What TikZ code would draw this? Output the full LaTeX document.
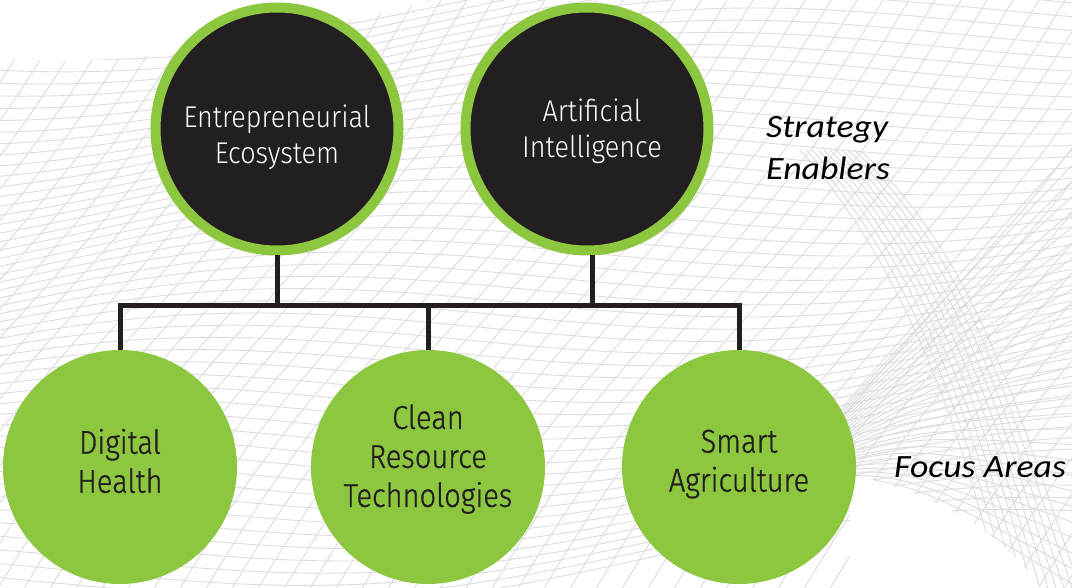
\documentclass[tikz,border=0pt]{standalone}
\usepackage{fontspec}
\setmainfont{Carlito}
\newfontfamily\circfont{Fira Sans Light}[FakeStretch=0.9]
\newfontfamily\areafont{Fira Sans Light}[FakeStretch=0.88, FakeBold=0.8]
\newfontfamily\tagfont{Carlito}[FakeStretch=1.1]
\definecolor{leaf}{HTML}{8DC63F}
\definecolor{ink}{HTML}{231F20}
\definecolor{mesh}{HTML}{DCDCDC}
\begin{document}
\begin{tikzpicture}[x=1pt,y=-1pt,
  enabler/.style={circle, draw=leaf, line width=10pt, fill=ink,
                  minimum size=243pt, inner sep=0pt},
  focus/.style={circle, fill=leaf, minimum size=234pt, inner sep=0pt},
  enablertext/.style={text=white, align=center, inner sep=0pt,
                      font=\circfont\fontsize{30}{36}\selectfont},
  focustext/.style={text=ink, align=center, inner sep=0pt,
                    font=\areafont\fontsize{33}{39}\selectfont},
  tag/.style={text=black, align=left, anchor=base west, inner sep=0pt,
              font=\tagfont\itshape\fontsize{32.5}{41.5}\selectfont},
  link/.style={draw=ink, line width=5pt, line join=miter},
  meshline/.style={draw=mesh, line width=0.9pt}
]
\useasboundingbox (0,0) rectangle (1072,588);
\fill[white] (0,0) rectangle (1072,588);

% wavy wire-mesh backdrop
\begin{scope}
  \clip (0,0) rectangle (1072,588);
  % long undulating strands
  \foreach \k in {0,...,58} {
    \draw[meshline] plot[domain=-10:1082, samples=45, smooth]
      (\x, {\k*11 - 40 + 30*sin(0.3*\x + 6*\k) - 0.06*\x});
  }
  % slanted cross strands
  \foreach \k in {-22,...,44} {
    \draw[meshline] plot[domain=0:588, samples=25, smooth]
      ({\k*26 + (588-\x)*0.75 + 14*sin(0.6*\x)}, \x);
  }
  % fan opening to the right edge
  \foreach \k in {0,...,28} {
    \draw[meshline] (780,480) .. controls (900,{480-(28-\k)*5}) .. (1072,{150+\k*15.5});
  }
  % sweeping arcs on the right
  \foreach \k in {0,...,10} {
    \draw[meshline] ({800+\k*6},150) .. controls ({900+\k*8},260) and ({960+\k*6},420) .. ({1000+\k*8},588);
  }
  % clear pockets
  \fill[white] (0,0) -- (430,0) .. controls (300,35) and (150,70) .. (0,58) -- cycle;
  \fill[white] (850,475) .. controls (940,492) and (1010,540) .. (1040,588) -- (850,588) -- cycle;
\end{scope}

% strategy enablers
\node[enabler] (ee) at (277,129) {};
\node[enablertext] (ee-t) at ([yshift=-8pt]ee.center) {Entrepreneurial\\Ecosystem};
\node[enabler] (ai) at (587,129) {};
\node[enablertext] (ai-t) at ([xshift=5pt,yshift=-2pt]ai.center) {Artificial\\Intelligence};

% focus areas
\node[focus] (dh) at (120,467) {};
\node[focustext] (dh-t) at ([yshift=6pt]dh.center) {Digital\\Health};
\node[focus] (crt) at (428,467) {};
\node[focustext] (crt-t) at ([yshift=8pt]crt.center) {Clean\\Resource\\Technologies};
\node[focus] (sa) at (739,467) {};
\node[focustext] (sa-t) at ([yshift=3pt]sa.center) {Smart\\Agriculture};

% connecting bar
\coordinate (bus) at (0,306);
\draw[link] (ee.south) -- (ee.south |- bus);
\draw[link] ([xshift=5pt]ai.south) -- ([xshift=5pt]ai.south |- bus);
\draw[link] (dh.north) -- (dh.north |- bus) -- (sa.north |- bus) -- (sa.north);
\draw[link] (crt.north) -- (crt.north |- bus);

% row labels
\node[tag] (se) at (766,179.5) {Strategy\\Enablers};
\node[tag] (fa) at (894,477.5) {Focus Areas};
\end{tikzpicture}
\end{document}
